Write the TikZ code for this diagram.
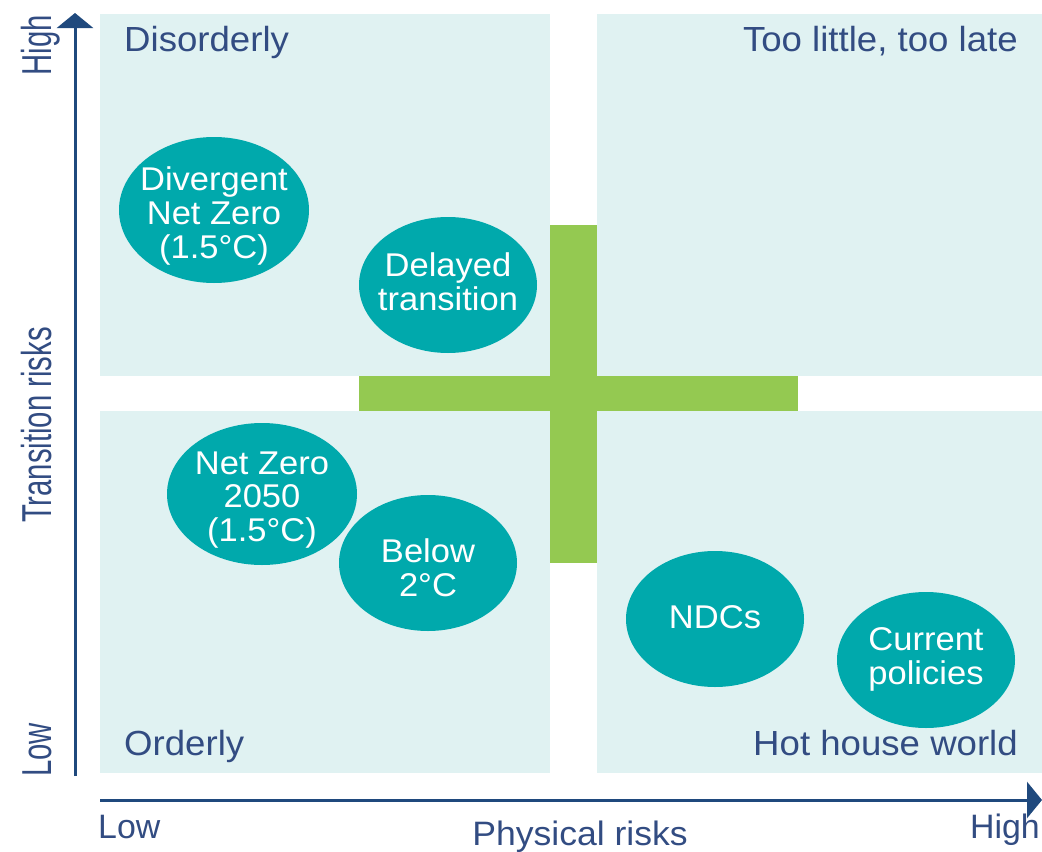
\documentclass[tikz,border=0pt]{standalone}
\usepackage{fontspec}
\setmainfont{Liberation Sans}
\newfontfamily\narrowfont[FakeStretch=0.7]{Liberation Sans}
\newfontfamily\wideish[FakeStretch=1.05]{Liberation Sans}
\usepackage{xcolor}
\definecolor{QuadTeal}{RGB}{224,242,242}
\definecolor{BubbleTeal}{RGB}{0,169,172}
\definecolor{CrossGreen}{RGB}{148,201,81}
\definecolor{AxisNavy}{RGB}{31,73,125}
\definecolor{LabelNavy}{RGB}{50,76,130}
\usepackage{tikz}
\usetikzlibrary{arrows.meta,positioning,shapes.geometric}

\begin{document}
\begin{tikzpicture}[
    x=1bp,y=-1bp,
    quad/.style={fill=QuadTeal,inner sep=0pt,minimum width=450bp,minimum height=362bp,anchor=north west},
    bar/.style={fill=CrossGreen,inner sep=0pt},
    bubble/.style={ellipse,fill=BubbleTeal,inner sep=0pt,minimum width=178bp,minimum height=136bp},
    btext/.style={text=white,inner sep=0pt,align=center,font=\wideish\fontsize{33}{34}\selectfont},
    title/.style={text=LabelNavy,inner sep=0pt,font=\wideish\fontsize{35}{40}\selectfont},
    axlbl/.style={text=LabelNavy,inner sep=0pt,font=\narrowfont\fontsize{42}{46}\selectfont,rotate=90},
    axis/.style={-{Triangle[length=15bp,width=36bp]},line width=3bp,AxisNavy},
  ]
    \useasboundingbox (0,0) rectangle (1042,852);
    % the four scenario quadrants
    \node[quad] (tl) at (100,14) {};
    \node[quad,minimum width=445bp] (tr) at (597,14) {};
    \node[quad] (bl) at (100,411) {};
    \node[quad,minimum width=445bp] (br) at (597,411) {};
    % green cross in the middle
    \node[bar,minimum width=47bp,minimum height=338bp] (vbar) at (573.5,394) {};
    \node[bar,minimum width=439bp,minimum height=35bp] (hbar) at (578.5,393.5) {};
    \node[title,anchor=base west] (disorderly) at (124,51) {Disorderly};
    \node[title,anchor=base east] (toolate) at (1018,51) {Too little, too late};
    \node[title,anchor=base west] (orderly) at (124,755) {Orderly};
    \node[title,anchor=base east] (hothouse) at (1018,755) {Hot house world};
    % scenarios
    \node[bubble,minimum width=190bp,minimum height=146bp,
      label={[btext,yshift=-6bp]center:{Divergent\\Net Zero\\(1.5°C)}}] (divergent) at (214,210) {};
    \node[bubble,label={[btext,yshift=3bp]center:{Delayed\\transition}}] (delayed) at (448,285) {};
    \node[bubble,minimum width=190bp,minimum height=142bp,
      label={[btext,yshift=-6bp]center:{Net Zero\\2050\\(1.5°C)}}] (netzero) at (262,494) {};
    \node[bubble,label={[btext,yshift=-5bp]center:{Below\\2°C}}] (below) at (428,563) {};
    \node[bubble,label={[btext,yshift=2bp]center:NDCs}] (ndcs) at (715,619) {};
    \node[bubble,label={[btext,yshift=1bp]center:{Current\\policies}}] (current) at (926,660) {};
    % axes
    \coordinate (yfoot) at (75,776);
    \coordinate (ytip) at (75,13);
    \coordinate (xfoot) at (100,800);
    \coordinate (xtip) at (1042,800);
    \draw[axis] (yfoot) -- (ytip);
    \draw[axis] (xfoot) -- (xtip);
    \node[axlbl,anchor=base east] (yhigh) at (51,15) {High};
    \node[axlbl,anchor=base west] (ylow) at (51,777) {Low};
    \node[axlbl,anchor=base] (ytitle) at (51,425) {Transition risks};
    \node[title,font=\fontsize{34}{40}\selectfont,anchor=base west] (xlow) at (98,838) {Low};
    \node[title,font=\fontsize{34}{40}\selectfont,anchor=base east] (xhigh) at (1040,838) {High};
    \node[title,font=\wideish\fontsize{34}{40}\selectfont,anchor=base] (xtitle) at (580,845) {Physical risks};
  \end{tikzpicture}
\end{document}
